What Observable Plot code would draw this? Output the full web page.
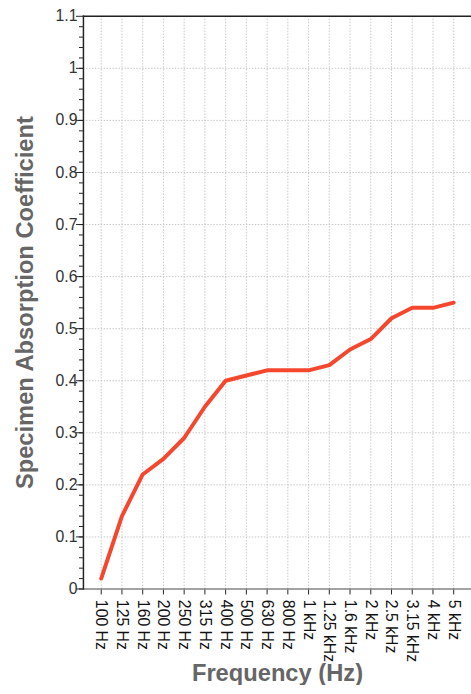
<!DOCTYPE html>
<html>
<head>
<meta charset="utf-8">
<script src="https://cdn.jsdelivr.net/npm/d3@7"></script>
<script src="https://cdn.jsdelivr.net/npm/@observablehq/plot@0.6"></script>
<style>
  html, body { margin: 0; padding: 0; background: #fff; overflow: hidden; }
  #chart { width: 471px; height: 694px; overflow: hidden; }
</style>
</head>
<body>
<div id="chart"></div>
<script>
const frequencies = ["100 Hz","125 Hz","160 Hz","200 Hz","250 Hz","315 Hz","400 Hz","500 Hz","630 Hz","800 Hz","1 kHz","1.25 kHz","1.6 kHz","2 kHz","2.5 kHz","3.15 kHz","4 kHz","5 kHz"];
const absorption = [0.02,0.14,0.22,0.25,0.29,0.35,0.40,0.41,0.42,0.42,0.42,0.43,0.46,0.48,0.52,0.54,0.54,0.55];
const yMajorTicks = [0,0.1,0.2,0.3,0.4,0.5,0.6,0.7,0.8,0.9,1,1.1];
const yMinorTicks = d3.range(0, 1.1, 0.02);
const yTitle = "Specimen Absorption Coefficient";
const xTitle = "Frequency (Hz)";

const data = frequencies.map((f, i) => ({freq: f, value: absorption[i]}));

const chart = Plot.plot({
  width: 477,
  height: 694,
  marginLeft: 84,
  marginRight: 0,
  marginTop: 16,
  marginBottom: 98,
  style: {fontFamily: "'Liberation Sans', Arial, Helvetica, sans-serif", background: "#fff"},
  x: {type: "point", domain: frequencies, padding: 0.555},
  y: {domain: [0, 1.1]},
  marks: [
    Plot.gridY(yMajorTicks, {stroke: "#c8c8c8", strokeOpacity: 1, strokeDasharray: "1.5,1.5"}),
    Plot.gridX(frequencies, {stroke: "#c8c8c8", strokeOpacity: 1, strokeDasharray: "1.5,1.5"}),
    Plot.axisY(yMinorTicks, {tickSize: 4, text: null, stroke: "#222", label: null}),
    Plot.axisY(yMajorTicks, {tickSize: 7, text: null, stroke: "#222", label: null}),
    Plot.axisX(frequencies, {tickSize: 6, text: null, stroke: "#222", label: null}),
    Plot.text(yMajorTicks, {y: d => d, text: d => String(d), frameAnchor: "left", dx: -6, textAnchor: "end", lineAnchor: "middle", fontSize: 16, fill: "#333"}),
    Plot.text(frequencies, {x: d => d, text: d => d, frameAnchor: "bottom", dy: 11, rotate: 90, textAnchor: "start", lineAnchor: "middle", fontSize: 16, fill: "#111"}),
    Plot.frame({anchor: "bottom", stroke: "#888", strokeWidth: 1.5}),
    Plot.frame({anchor: "left", stroke: "#222", strokeWidth: 1.5}),
    Plot.frame({anchor: "top", stroke: "#222", strokeWidth: 1.5}),
    Plot.line(data, {x: "freq", y: "value", stroke: "#f4472d", strokeWidth: 4, strokeLinejoin: "round", strokeLinecap: "round"}),
    Plot.text([yTitle], {text: d => d, frameAnchor: "left", rotate: -90, dx: -59, fontSize: 24, fontWeight: "bold", fill: "#666", textAnchor: "middle", lineAnchor: "middle"}),
    Plot.text([xTitle], {text: d => d, frameAnchor: "bottom", dy: 85, fontSize: 24, fontWeight: "bold", fill: "#666", textAnchor: "middle", lineAnchor: "middle"})
  ]
});
document.getElementById("chart").append(chart);
</script>
</body>
</html>
